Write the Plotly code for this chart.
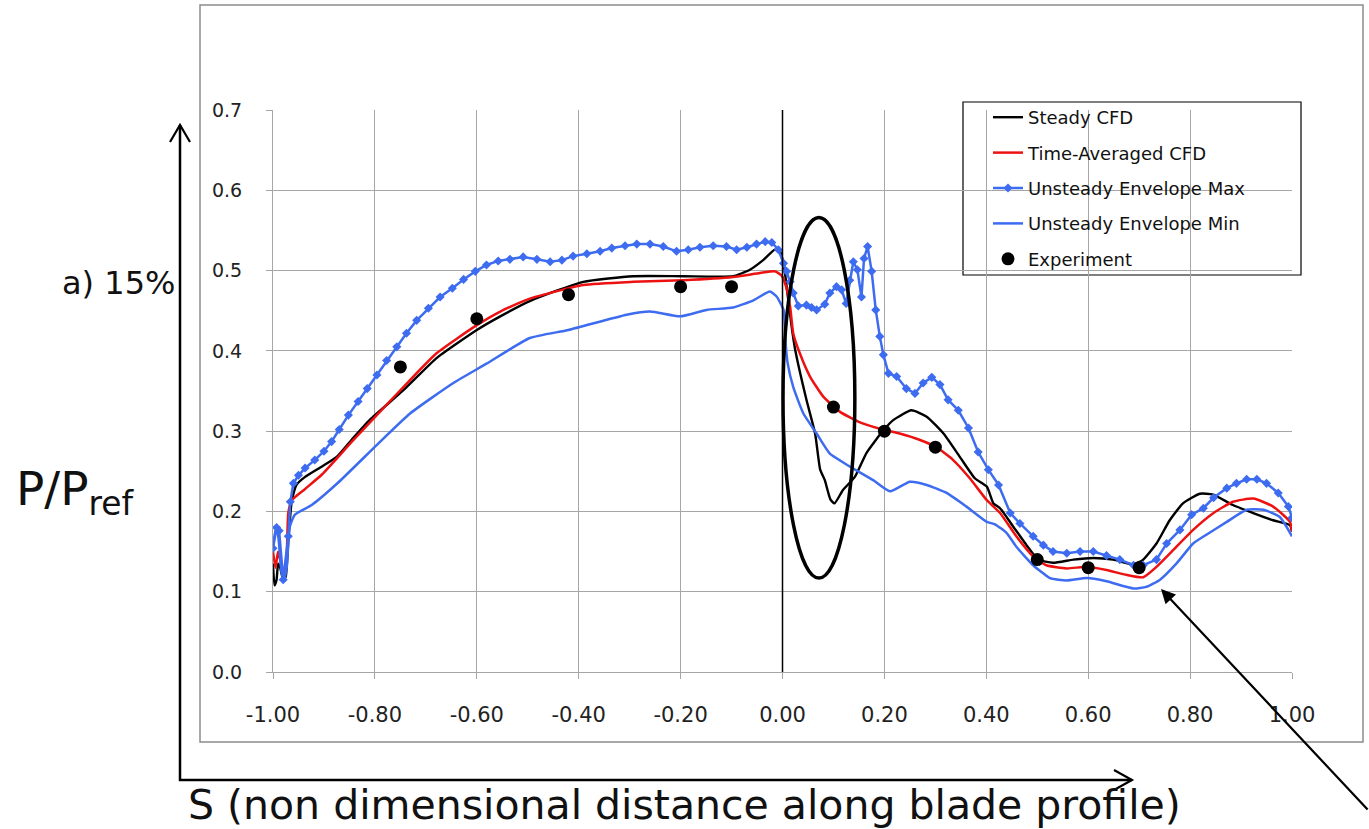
import plotly.graph_objects as go

# ---------------- data ----------------
steady_s = [-1.0, -0.997, -0.993, -0.990, -0.986, -0.980, -0.975, -0.970, -0.963, -0.954, -0.937, -0.904,
            -0.875, -0.846, -0.810, -0.744, -0.679, -0.600, -0.554, -0.496, -0.391, -0.293, -0.195, -0.097,
            -0.064, -0.038, -0.015, -0.005, 0.003, 0.010, 0.018, 0.025, 0.047, 0.064, 0.074, 0.083, 0.094,
            0.102, 0.119, 0.142, 0.165, 0.198, 0.218, 0.253, 0.283, 0.316, 0.348, 0.378, 0.401, 0.414,
            0.427, 0.453, 0.479, 0.502, 0.531, 0.571, 0.610, 0.649, 0.689, 0.708, 0.734, 0.760, 0.786,
            0.819, 0.845, 0.884, 0.924, 0.963, 0.996, 1.0]
steady_p = [0.135, 0.108, 0.115, 0.135, 0.130, 0.115, 0.119, 0.164, 0.214, 0.233, 0.243, 0.256,
            0.268, 0.289, 0.314, 0.351, 0.391, 0.426, 0.443, 0.462, 0.486, 0.493, 0.493, 0.493,
            0.501, 0.513, 0.526, 0.524, 0.505, 0.470, 0.430, 0.401, 0.339, 0.297, 0.252, 0.239, 0.215,
            0.210, 0.227, 0.243, 0.273, 0.301, 0.314, 0.326, 0.318, 0.297, 0.268, 0.241, 0.231, 0.210,
            0.204, 0.181, 0.158, 0.140, 0.136, 0.140, 0.142, 0.140, 0.134, 0.140, 0.160, 0.189, 0.210,
            0.222, 0.221, 0.208, 0.198, 0.189, 0.183, 0.175]

avg_s = [-1.0, -0.995, -0.990, -0.980, -0.975, -0.970, -0.963, -0.937, -0.904, -0.842, -0.744, -0.679,
         -0.600, -0.554, -0.496, -0.391, -0.293, -0.195, -0.097, -0.044, -0.015, -0.002, 0.007, 0.015,
         0.021, 0.034, 0.054, 0.080, 0.113, 0.152, 0.191, 0.230, 0.270, 0.302, 0.335, 0.368, 0.401,
         0.427, 0.459, 0.492, 0.518, 0.558, 0.597, 0.636, 0.675, 0.708, 0.734, 0.767, 0.806, 0.846,
         0.884, 0.924, 0.963, 0.996, 1.0]
avg_p = [0.150, 0.130, 0.150, 0.125, 0.128, 0.198, 0.214, 0.228, 0.246, 0.289, 0.355, 0.397,
         0.432, 0.449, 0.465, 0.482, 0.486, 0.488, 0.492, 0.497, 0.499, 0.494, 0.480, 0.455,
         0.422, 0.397, 0.368, 0.343, 0.324, 0.311, 0.303, 0.297, 0.289, 0.280, 0.264, 0.241, 0.214,
         0.198, 0.169, 0.144, 0.133, 0.129, 0.131, 0.127, 0.121, 0.118, 0.131, 0.152, 0.177, 0.198,
         0.212, 0.216, 0.206, 0.187, 0.175]

max_s = [-1.0, -0.993, -0.988, -0.980, -0.970, -0.966, -0.960, -0.950, -0.937, -0.918, -0.900, -0.885,
         -0.870, -0.852, -0.833, -0.815, -0.796, -0.777, -0.757, -0.738, -0.718, -0.695, -0.672, -0.648,
         -0.626, -0.603, -0.581, -0.558, -0.535, -0.509, -0.482, -0.456, -0.433, -0.411, -0.384, -0.358,
         -0.335, -0.309, -0.286, -0.260, -0.234, -0.208, -0.185, -0.162, -0.136, -0.110, -0.090, -0.070,
         -0.051, -0.034, -0.021, -0.008, 0.002, 0.008, 0.015, 0.021, 0.031, 0.047, 0.057, 0.067, 0.083,
         0.093, 0.106, 0.116, 0.125, 0.132, 0.139, 0.147, 0.155, 0.160, 0.167, 0.175, 0.183, 0.191,
         0.198, 0.208, 0.224, 0.243, 0.260, 0.276, 0.293, 0.309, 0.325, 0.345, 0.365, 0.384, 0.404,
         0.424, 0.447, 0.466, 0.492, 0.512, 0.531, 0.558, 0.584, 0.610, 0.636, 0.662, 0.689, 0.708,
         0.734, 0.754, 0.780, 0.803, 0.826, 0.846, 0.872, 0.891, 0.911, 0.931, 0.950, 0.973, 0.993, 1.0]
max_p = [0.154, 0.180, 0.176, 0.115, 0.169, 0.212, 0.235, 0.245, 0.254, 0.264, 0.275, 0.287,
         0.302, 0.320, 0.337, 0.353, 0.370, 0.388, 0.405, 0.422, 0.438, 0.453, 0.467, 0.478,
         0.489, 0.499, 0.507, 0.512, 0.514, 0.517, 0.514, 0.511, 0.513, 0.518, 0.521, 0.524,
         0.528, 0.531, 0.533, 0.533, 0.530, 0.524, 0.526, 0.529, 0.531, 0.530, 0.526, 0.529,
         0.533, 0.536, 0.535, 0.526, 0.509, 0.499, 0.486, 0.472, 0.456, 0.457, 0.454, 0.451, 0.458,
         0.472, 0.480, 0.476, 0.459, 0.488, 0.511, 0.501, 0.467, 0.515, 0.530, 0.499, 0.451, 0.418,
         0.395, 0.372, 0.368, 0.353, 0.347, 0.360, 0.367, 0.358, 0.339, 0.326, 0.304, 0.274, 0.252,
         0.233, 0.198, 0.185, 0.169, 0.158, 0.150, 0.148, 0.150, 0.150, 0.145, 0.140, 0.133, 0.133,
         0.140, 0.160, 0.177, 0.196, 0.204, 0.217, 0.229, 0.235, 0.240, 0.240, 0.235, 0.223, 0.206, 0.192]

min_s = [-1.0, -0.995, -0.990, -0.983, -0.978, -0.973, -0.967, -0.957, -0.924, -0.872, -0.796, -0.731,
         -0.646, -0.581, -0.496, -0.420, -0.306, -0.260, -0.201, -0.149, -0.097, -0.057, -0.025, -0.012,
         0.002, 0.006, 0.010, 0.021, 0.041, 0.067, 0.093, 0.132, 0.178, 0.211, 0.250, 0.283, 0.322,
         0.361, 0.401, 0.417, 0.440, 0.459, 0.492, 0.525, 0.558, 0.597, 0.636, 0.689, 0.714, 0.741,
         0.773, 0.806, 0.832, 0.872, 0.911, 0.944, 0.976, 1.0]
min_p = [0.156, 0.177, 0.170, 0.123, 0.115, 0.131, 0.181, 0.196, 0.208, 0.236, 0.283, 0.322,
         0.360, 0.384, 0.416, 0.426, 0.445, 0.449, 0.443, 0.451, 0.454, 0.463, 0.474, 0.468,
         0.451, 0.410, 0.385, 0.355, 0.322, 0.297, 0.272, 0.256, 0.239, 0.225, 0.237, 0.233, 0.223,
         0.206, 0.187, 0.184, 0.173, 0.156, 0.133, 0.117, 0.114, 0.117, 0.113, 0.104, 0.106, 0.115,
         0.135, 0.160, 0.171, 0.187, 0.202, 0.202, 0.193, 0.169]

exp_s = [-0.75, -0.60, -0.42, -0.20, -0.10, 0.10, 0.20, 0.30, 0.50, 0.60, 0.70]
exp_p = [0.38, 0.44, 0.47, 0.48, 0.48, 0.33, 0.30, 0.28, 0.14, 0.13, 0.13]

x_ticks = [-1.0, -0.8, -0.6, -0.4, -0.2, 0.0, 0.2, 0.4, 0.6, 0.8, 1.0]
x_tick_text = ["-1.00", "-0.80", "-0.60", "-0.40", "-0.20", "0.00", "0.20", "0.40", "0.60", "0.80", "1.00"]
y_ticks = [0.0, 0.1, 0.2, 0.3, 0.4, 0.5, 0.6, 0.7]

# ---------------- layout geometry (pixels) ----------------
W, H = 1369, 829
ML, MR, MT, MB = 273, 77, 110, 157
PW, PH = W - ML - MR, H - MT - MB


def px(x):
    return (x - ML) / PW


def py(y):
    return (H - MB - y) / PH


BLUE = "#3d6cf0"
RED = "#ee1111"
FONT = "DejaVu Sans"

fig = go.Figure()
fig.add_trace(go.Scatter(x=steady_s, y=steady_p, mode="lines", name="Steady CFD",
                         line=dict(color="black", width=2.4, shape="spline", smoothing=0.5),
                         legendgroup="a"))
fig.add_trace(go.Scatter(x=avg_s, y=avg_p, mode="lines", name="Time-Averaged CFD",
                         line=dict(color=RED, width=2.5, shape="spline", smoothing=0.5),
                         legendgroup="b"))
fig.add_trace(go.Scatter(x=max_s, y=max_p, mode="lines+markers", name="Unsteady Envelope Max",
                         line=dict(color=BLUE, width=2.5),
                         marker=dict(symbol="diamond", size=7, color=BLUE),
                         legendgroup="c"))
fig.add_trace(go.Scatter(x=min_s, y=min_p, mode="lines", name="Unsteady Envelope Min",
                         line=dict(color=BLUE, width=2.5, shape="spline", smoothing=0.5),
                         legendgroup="d"))
fig.add_trace(go.Scatter(x=exp_s, y=exp_p, mode="markers", name="Experiment",
                         marker=dict(symbol="circle", size=13, color="black"),
                         legendgroup="e"))

shapes = []
# outer chart frame
shapes.append(dict(type="rect", xref="paper", yref="paper",
                   x0=px(200), x1=px(1363), y0=py(742), y1=py(5),
                   line=dict(color="#8c8c8c", width=1.5), layer="below"))
# zero (vertical axis) line
shapes.append(dict(type="line", xref="x", yref="y", x0=0, x1=0, y0=0, y1=0.7,
                   line=dict(color="black", width=1.5)))
# ellipse
shapes.append(dict(type="circle", xref="x", yref="y", x0=0.001, x1=0.142, y0=0.117, y1=0.566,
                   line=dict(color="black", width=3.5)))
# legend box
shapes.append(dict(type="rect", xref="paper", yref="paper",
                   x0=px(963), x1=px(1301), y0=py(275), y1=py(102),
                   line=dict(color="black", width=1.2), fillcolor="white", layer="below"))
# big vertical arrow
shapes.append(dict(type="line", xref="paper", yref="paper", x0=px(180), x1=px(180), y0=py(781), y1=py(125),
                   line=dict(color="black", width=2.5)))
shapes.append(dict(type="path", xref="paper", yref="paper",
                   path=f"M {px(170)} {py(142)} L {px(180)} {py(125)} L {px(190)} {py(142)}",
                   line=dict(color="black", width=2.2)))
# big horizontal arrow
shapes.append(dict(type="line", xref="paper", yref="paper", x0=px(179), x1=px(1132), y0=py(780), y1=py(780),
                   line=dict(color="black", width=2.5)))
shapes.append(dict(type="path", xref="paper", yref="paper",
                   path=f"M {px(1114)} {py(770)} L {px(1132)} {py(780)} L {px(1114)} {py(790)}",
                   line=dict(color="black", width=2.2)))

annotations = [
    dict(xref="paper", yref="paper", x=px(118), y=py(283), text="a) 15%", showarrow=False,
         xanchor="center", yanchor="middle",
         font=dict(family=FONT, size=32, color="#111")),
    dict(xref="paper", yref="paper", x=px(75), y=py(492), text="P/P<sub>ref</sub>", showarrow=False,
         xanchor="center", yanchor="middle",
         font=dict(family=FONT, size=47, color="#111")),
    dict(xref="paper", yref="paper", x=px(684), y=py(805),
         text="S (non dimensional distance along blade profile)", showarrow=False,
         xanchor="center", yanchor="middle",
         font=dict(family=FONT, size=41, color="#111")),
    dict(xref="paper", yref="paper", x=px(1161), y=py(589), text="", showarrow=True,
         axref="pixel", ayref="pixel", ax=210, ay=222,
         arrowhead=2, arrowsize=1.3, arrowwidth=2.2, arrowcolor="black"),
]

fig.update_layout(
    width=W, height=H,
    margin=dict(l=ML, r=MR, t=MT, b=MB, autoexpand=False),
    paper_bgcolor="white", plot_bgcolor="white",
    shapes=shapes, annotations=annotations,
    showlegend=True,
    legend=dict(x=px(988), y=py(99), xanchor="left", yanchor="top",
                bgcolor="rgba(0,0,0,0)", borderwidth=0,
                font=dict(family=FONT, size=18, color="#111"),
                tracegroupgap=9, itemwidth=30),
    xaxis=dict(range=[-1.0, 1.0], tickvals=x_ticks, ticktext=x_tick_text,
               showgrid=True, gridcolor="#a6a6a6", gridwidth=1,
               showline=True, linecolor="#a6a6a6", linewidth=1, mirror=False,
               ticks="outside", ticklen=6, tickcolor="#a6a6a6",
               ticklabelstandoff=18,
               tickfont=dict(family=FONT, size=21, color="#222"),
               zeroline=False),
    yaxis=dict(range=[0.0, 0.7], tickvals=y_ticks, tickformat=".1f",
               showgrid=True, gridcolor="#a6a6a6", gridwidth=1,
               showline=True, linecolor="#a6a6a6", linewidth=1,
               ticks="outside", ticklen=6, tickcolor="#a6a6a6",
               ticklabelstandoff=20,
               tickfont=dict(family=FONT, size=19, color="#222"),
               zeroline=False),
)

fig.write_html("out.html")
